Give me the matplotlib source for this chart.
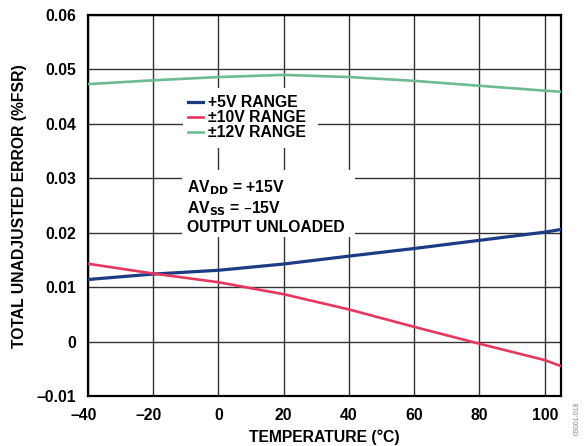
import matplotlib
matplotlib.use("Agg")
import matplotlib.pyplot as plt
import matplotlib.transforms as mtransforms
from matplotlib.patches import Rectangle

temps = [-40, -20, 0, 20, 40, 60, 80, 100, 105]
err_5v = [0.0114, 0.0124, 0.0131, 0.01425, 0.0157, 0.0171, 0.0186, 0.0201, 0.0206]
err_10v = [0.0143, 0.0125, 0.0109, 0.0087, 0.0059, 0.0027, -0.0004, -0.0034, -0.0045]
err_12v = [0.0473, 0.0480, 0.0486, 0.0490, 0.0486, 0.0479, 0.0470, 0.0461, 0.0459]
x_ticks = [-40, -20, 0, 20, 40, 60, 80, 100]
y_ticks = [-0.01, 0, 0.01, 0.02, 0.03, 0.04, 0.05, 0.06]
y_labels = ["\u20130.01", "0", "0.01", "0.02", "0.03", "0.04", "0.05", "0.06"]
x_labels = ["\u201340", "\u201320", "0", "20", "40", "60", "80", "100"]

plt.rcParams['font.family'] = ['Liberation Sans', 'DejaVu Sans']
plt.rcParams['font.weight'] = 'bold'
FS = 11.3

W, H = 584, 446
fig = plt.figure(figsize=(W/100, H/100), dpi=100)
ax = fig.add_axes([88/W, 1-396/H, (561-88)/W, (396-15)/H])

ax.set_xlim(-40, 105)
ax.set_ylim(-0.01, 0.06)
ax.set_xticks(x_ticks)
ax.set_xticklabels(x_labels)
ax.set_yticks(y_ticks)
ax.set_yticklabels(y_labels)
ax.tick_params(length=0, labelsize=FS, pad=8.5)
off = mtransforms.ScaledTranslation(-4.5/100, 0, fig.dpi_scale_trans)
for lab in ax.get_xticklabels():
    lab.set_fontweight('bold')
    if lab.get_text().startswith('\u2013'):
        lab.set_transform(lab.get_transform() + off)
for lab in ax.get_yticklabels():
    lab.set_fontweight('bold')
ax.grid(True, color='#333333', linewidth=1.0)
ax.set_axisbelow(True)
for s in ax.spines.values():
    s.set_linewidth(1.6)
    s.set_color('black')

c5, c10, c12 = '#1b3c84', '#e8375c', '#6dbb90'
l1, = ax.plot(temps, err_5v, color=c5, lw=2.3, zorder=3, label='+5V RANGE')
l2, = ax.plot(temps, err_10v, color=c10, lw=1.9, zorder=3, label='\u00b110V RANGE')
l3, = ax.plot(temps, err_12v, color=c12, lw=1.9, zorder=3, label='\u00b112V RANGE')

# white boxes hiding gridlines (inside the axes, above grid, below text)
def px_rect(x0, y0, x1, y1):
    r = Rectangle((x0/W, 1-y1/H), (x1-x0)/W, (y1-y0)/H,
                  transform=fig.transFigure, facecolor='white', edgecolor='none', zorder=1.5)
    ax.add_patch(r)
px_rect(183, 88, 318, 148)
px_rect(182, 170, 355, 237)

leg = ax.legend(handles=[l1, l2, l3], loc='upper left',
                bbox_to_anchor=(188/W, 1-95/H), bbox_transform=fig.transFigure,
                frameon=False, fontsize=FS, handlelength=0.95, handletextpad=0.32,
                labelspacing=0.0, borderaxespad=0, borderpad=0)
for t in leg.get_texts():
    t.set_fontweight('bold')
leg.set_zorder(5)

def data_y(py):
    return 0.06 - (py - 15) / 381 * 0.07

tx = -40 + (187 - 88) / 473 * 145
ax.text(tx, data_y(192), 'AV$_{\\mathbf{DD}}$ = +15V', fontsize=FS, fontweight='bold', zorder=6, va='baseline')
ax.text(tx, data_y(213), 'AV$_{\\mathbf{SS}}$ = \u201315V', fontsize=FS, fontweight='bold', zorder=6, va='baseline')
ax.text(tx, data_y(232), 'OUTPUT UNLOADED', fontsize=FS, fontweight='bold', zorder=6, va='baseline')

fig.text(20/W, 1-206/H, 'TOTAL UNADJUSTED ERROR (%FSR)', rotation=90,
         ha='center', va='center', fontsize=FS, fontweight='bold')
fig.text(324/W, 1-437/H, 'TEMPERATURE (\u00b0C)', ha='center', va='center',
         fontsize=FS, fontweight='bold')
fig.text(577/W, 1-418/H, '03001-018', rotation=90, ha='center', va='center',
         fontsize=5, color='#888888', fontweight='normal')

fig.savefig('out.png', dpi=100)
